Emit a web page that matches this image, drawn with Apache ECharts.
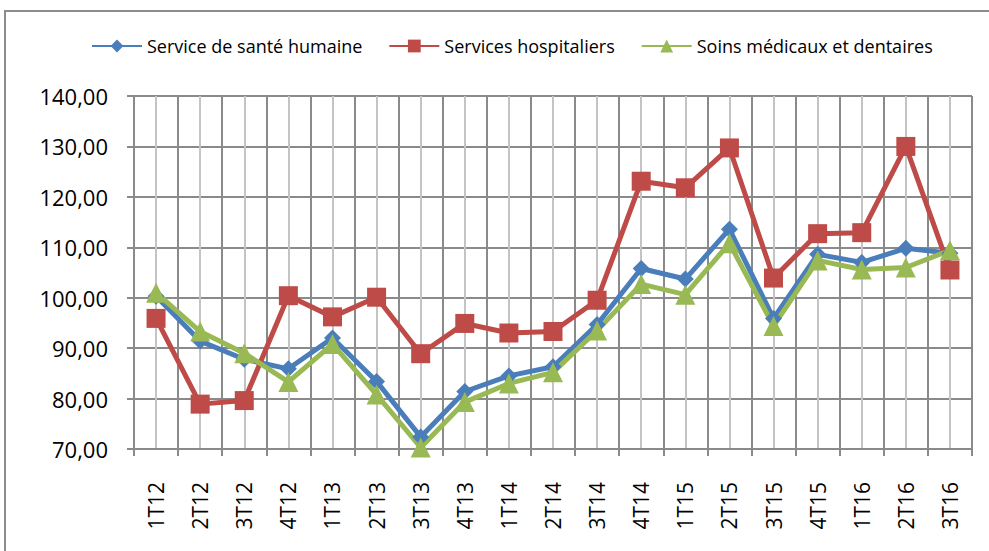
<!DOCTYPE html>
<html>
<head>
<meta charset="utf-8">
<script src="https://cdn.jsdelivr.net/npm/echarts@6/dist/echarts.min.js"></script>
<style>
  html, body { margin: 0; padding: 0; background: #fff; }
  #frame { position: absolute; left: 4px; top: 10px; width: 1000px; height: 600px;
    border: 2px solid #8c8c8c; box-sizing: border-box; }
  #chart { position: absolute; left: 0; top: 0; width: 989px; height: 551px; }
</style>
</head>
<body>
<div id="frame"></div>
<div id="chart"></div>
<script>
// quarters, 1T12 .. 3T16
const categories = ['1T12', '2T12', '3T12', '4T12', '1T13', '2T13', '3T13', '4T13',
  '1T14', '2T14', '3T14', '4T14', '1T15', '2T15', '3T15', '4T15', '1T16', '2T16', '3T16'];

const santeHumaine = [100.3, 91.4, 87.8, 85.9, 92.0, 83.4, 72.4, 81.4, 84.5, 86.3,
  94.7, 105.8, 103.7, 113.6, 95.9, 108.6, 107.0, 109.8, 108.8];
const hospitaliers = [95.9, 78.9, 79.6, 100.4, 96.2, 100.1, 88.9, 94.9, 93.0, 93.3,
  99.5, 123.1, 121.8, 129.7, 103.9, 112.7, 112.9, 130.0, 105.5];
const soinsMedicaux = [101.0, 93.3, 89.0, 83.3, 90.8, 80.8, 70.3, 79.3, 83.0, 85.2,
  93.5, 102.7, 100.6, 110.8, 94.4, 107.4, 105.6, 106.0, 109.4];

const seriesNames = ['Service de santé humaine', 'Services hospitaliers', 'Soins médicaux et dentaires'];

const FONT = 'Open Sans, sans-serif';
const GRID_DARK = '#8a8a8a';
const GRID_LIGHT = '#c4c4c4';

const chart = echarts.init(document.getElementById('chart'), null, { renderer: 'svg' });

function lineSeries(name, data, color, symbol, size) {
  return {
    name, type: 'line', data,
    xAxisIndex: 0, yAxisIndex: 0,
    symbol, symbolSize: size, showAllSymbol: true,
    lineStyle: { width: 5, color },
    itemStyle: { color },
  };
}

// vertical grid: boundaries dark, category centres light (2 steps per category)
const gridSteps = categories.length * 2;

chart.setOption({
  animation: false,
  legend: {
    top: 32, left: 86,
    itemWidth: 50, itemHeight: 16, itemGap: 26,
    textStyle: { fontFamily: FONT, fontSize: 18, color: '#000' },
    data: seriesNames,
  },
  grid: { left: 134, right: 17, top: 96, bottom: 102 },
  xAxis: [{
    type: 'category', data: categories, boundaryGap: true,
    axisLine: { lineStyle: { color: GRID_DARK, width: 2 } },
    axisTick: { show: true, length: 7, lineStyle: { color: GRID_DARK, width: 2 } },
    axisLabel: { rotate: 90, fontFamily: FONT, fontSize: 21, color: '#000', margin: 33 },
    splitLine: { show: false },
  }, {
    type: 'value', min: 0, max: gridSteps, interval: 1, position: 'bottom',
    axisLine: { show: false }, axisTick: { show: false }, axisLabel: { show: false },
    splitLine: { show: true, lineStyle: { width: 2, color: [GRID_DARK, GRID_LIGHT] } },
  }],
  yAxis: {
    type: 'value', min: 70, max: 140, interval: 10,
    axisLine: { show: true, lineStyle: { color: GRID_DARK, width: 2 } },
    axisTick: { show: true, length: 7, lineStyle: { color: GRID_DARK, width: 2 } },
    axisLabel: { fontFamily: FONT, fontSize: 22, color: '#000', margin: 26,
      formatter: (v) => v.toFixed(2).replace('.', ',') },
    splitLine: { show: true, lineStyle: { color: GRID_DARK, width: 2 } },
  },
  series: [
    lineSeries(seriesNames[0], santeHumaine, '#4a7ebb', 'diamond', 17),
    lineSeries(seriesNames[1], hospitaliers, '#be4b48', 'rect', 19),
    lineSeries(seriesNames[2], soinsMedicaux, '#98b954', 'triangle', 20),
  ],
});
</script>
</body>
</html>
